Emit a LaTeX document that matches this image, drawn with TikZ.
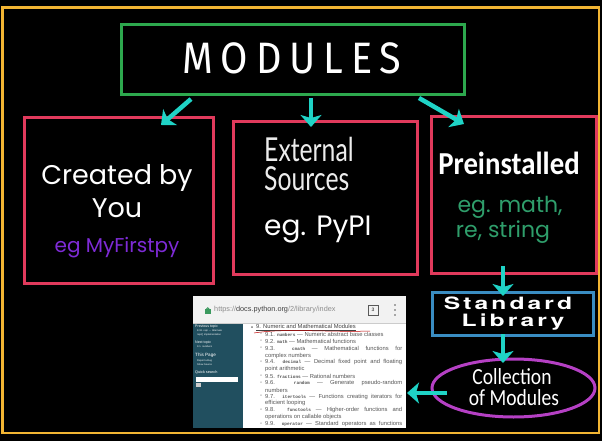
\documentclass[tikz,border=0pt]{standalone}
\usepackage{fontspec}
\usepackage{xcolor}
\usetikzlibrary{arrows.meta,calc,positioning,shapes.geometric}

\newfontfamily\modfont[LetterSpace=18,FakeStretch=0.9]{Fira Sans}
\newfontfamily\roundfont{Poppins}
\newfontfamily\tallfont[FakeStretch=0.75]{Lato}
\newfontfamily\preifont[FakeStretch=0.9]{Carlito}
\newfontfamily\widefont[LetterSpace=18,FakeStretch=1.45]{TeX Gyre Heros}
\newfontfamily\collfont[FakeStretch=0.85]{Carlito}
\newfontfamily\webfont{Liberation Sans}
\newfontfamily\webmono{Liberation Mono}

\definecolor{framey}{HTML}{F2B533}
\definecolor{boxgreen}{HTML}{2DA84E}
\definecolor{boxred}{HTML}{E03A5C}
\definecolor{arrowcyan}{HTML}{1FD3C6}
\definecolor{boxblue}{HTML}{3A8DC2}
\definecolor{ellmag}{HTML}{B540C4}
\definecolor{txtpurple}{HTML}{7E2BD6}
\definecolor{txtgreen}{HTML}{2F9E6B}
\definecolor{sidebar}{HTML}{214F5F}
\definecolor{webgray}{HTML}{555555}
\definecolor{lockgreen}{HTML}{3C9A5F}

\newcommand{\pycode}[1]{{\webmono\bfseries\fontsize{4.4}{5}\selectfont #1}}
\newcommand{\fsz}[1]{\fontsize{#1}{#1}\selectfont}

\begin{document}
\begin{tikzpicture}[x=1pt,y=-1pt,
    redbox/.style={draw=boxred, line width=3pt, inner sep=0pt},
    cyanarrow/.style={draw=arrowcyan, line width=4.5pt,
      -{Stealth[length=12pt,width=21pt,inset=3pt]}},
    bigtxt/.style={text=white, inner sep=0pt},
    webtxt/.style={text=webgray, inner sep=0pt, anchor=west,
      font=\webfont\fsz{5.8}},
    sidetxt/.style={text=white, inner sep=0pt, anchor=west}]
      % Background and frame
      \fill[black] (0,0) rectangle (602,441);
      \useasboundingbox (0,0) rectangle (602,441);
      \draw[framey, line width=2.5pt] (2.5,7.5) rectangle (599,433);
      % Top box
      \node[draw=boxgreen, line width=3pt, inner sep=0pt,
        minimum width=343pt, minimum height=70pt] (modules) at (293,59.5) {};
      \node[bigtxt, font=\modfont\fsz{44}] (modtxt) at (292,58) {MODULES};
      % Three kinds of modules
      \node[redbox, minimum width=189pt, minimum height=165pt] (created) at (118.5,200.5) {};
      \node[redbox, minimum width=184pt, minimum height=152pt] (external) at (325,198) {};
      \node[redbox, minimum width=165pt, minimum height=156pt] (preinst) at (513.5,195) {};
      % Texts of the boxes
      \node[bigtxt, font=\roundfont\fsz{27}] (c1) at (117,178) {Created by};
      \node[bigtxt, font=\roundfont\fsz{27}] (c2) at (117,208) {You};
      \node[bigtxt, text=txtpurple, font=\roundfont\fsz{20}] (c3) at (117,248) {eg MyFirstpy};
      \node[bigtxt, text=white!85!gray, anchor=west, font=\tallfont\fsz{33}] (e1) at (264,149) {External};
      \node[bigtxt, text=white!85!gray, anchor=west, font=\tallfont\fsz{33}] (e2) at (264,179) {Sources};
      \node[bigtxt, anchor=west, font=\roundfont\fsz{28}] (e3) at (264,230) {eg. PyPI};
      \node[bigtxt, font=\preifont\bfseries\fsz{32}] (p1) at (509,163) {Preinstalled};
      \node[bigtxt, text=txtgreen, font=\roundfont\fsz{22}] (p2) at (510,207) {eg. math,};
      \node[bigtxt, text=txtgreen, font=\roundfont\fsz{22}] (p3) at (503,232) {re, string};
      % Standard library and collection
      \node[draw=boxblue, line width=3pt, inner sep=0pt,
        minimum width=161pt, minimum height=43pt] (stdlib) at (512.5,313.5) {};
      \node[bigtxt, font=\widefont\bfseries\fsz{17}] (s1) at (508,303) {Standard};
      \node[bigtxt, font=\widefont\bfseries\fsz{17}] (s2) at (513,322) {Library};
      \node[draw=ellmag, line width=3pt, ellipse, inner sep=0pt,
        minimum width=163pt, minimum height=58pt] (coll) at (513.5,388) {};
      \node[bigtxt, font=\collfont\fsz{23}] (k1) at (512,377) {Collection};
      \node[bigtxt, font=\collfont\fsz{23}] (k2) at (514,398) {of Modules};
      % Screenshot of the docs page
      \node[fill=white, inner sep=0pt, minimum width=213pt, minimum height=132pt] (shot) at (299.5,362) {};
      \fill[black!5] (193,296) rectangle (406,323);
      \draw[black!20, line width=0.6pt] (193,323) -- (406,323);
      \fill[lockgreen] (205,309) rectangle (210.5,314);
      \draw[lockgreen, line width=0.9pt] (206,309.5) arc (180:360:1.75);
      \node[inner sep=0pt, anchor=west, text=black!75, font=\webfont\fsz{7.3}] (url) at (214,310)
        {\textcolor{black!45}{https://}docs.python.org\textcolor{black!45}{/2/library/index}};
      \draw[black!65, line width=0.7pt] (368,305) rectangle (378,315);
      \node[inner sep=0pt, text=black!65, font=\webfont\bfseries\fsz{5}] (tab) at (373,310) {3};
      \foreach \y in {305,310,315}
        \fill[black!65] (395,\y) circle (0.9);
      % Sidebar
      \fill[sidebar] (193,323.5) rectangle (243,428);
      \node[sidetxt, font=\webfont\fsz{3.6}] (sb1) at (195,327) {Previous topic};
      \node[sidetxt, font=\webfont\fsz{2.5}] (sb2) at (197,331.3) {8.18. repr --- Alternate};
      \node[sidetxt, font=\webfont\fsz{2.5}] (sb3) at (197,335) {repr() implementation};
      \node[sidetxt, font=\webfont\fsz{3.6}] (sb4) at (195,342.7) {Next topic};
      \node[sidetxt, font=\webfont\fsz{2.5}] (sb5) at (197,347) {9.1. numbers};
      \node[sidetxt, font=\webfont\fsz{4.6}] (sb6) at (195,355) {This Page};
      \node[sidetxt, font=\webfont\fsz{2.5}] (sb7) at (197,361) {Report a Bug};
      \node[sidetxt, font=\webfont\fsz{2.5}] (sb8) at (197,365) {Show Source};
      \node[sidetxt, font=\webfont\fsz{3.8}] (sb9) at (195,372) {Quick search};
      \fill[white] (196,377) rectangle (238,381.5);
      \fill[white!80!black] (196,382.5) rectangle (201,386.5);
      % Contents list
      \node[webtxt, text=black!75] (t0) at (251,327.7) {\textbullet};
      \node[webtxt, text=black!75] (t1) at (256,327.7) {\underbar{9. Numeric and Mathematical Modules}};
      \draw[red!75!black, line width=0.5pt] (254,333) .. controls (285,328) and (330,332.5) .. (370,331);
      \foreach \y in {334.3,341.7,348.7,362,376,383,396.7,410.3,424}
        \node[webtxt] at (260,\y) {◦};
      \node[webtxt] (t2) at (265,334.3) {9.1. \pycode{numbers} — Numeric abstract base classes};
      \node[webtxt] (t3) at (265,341.7) {9.2. \pycode{math} — Mathematical functions};
      \node[webtxt] (t4) at (265,348.7) {\makebox[137pt][s]{9.3. \pycode{cmath} — Mathematical functions for}};
      \node[webtxt] (t5) at (265,355.7) {complex numbers};
      \node[webtxt] (t6) at (265,362) {\makebox[137pt][s]{9.4. \pycode{decimal} — Decimal fixed point and floating}};
      \node[webtxt] (t7) at (265,369.3) {point arithmetic};
      \node[webtxt] (t8) at (265,376) {9.5. \pycode{fractions} — Rational numbers};
      \node[webtxt] (t9) at (265,383) {\makebox[137pt][s]{9.6. \pycode{random} — Generate pseudo-random}};
      \node[webtxt] (t10) at (265,390) {numbers};
      \node[webtxt] (t11) at (265,396.7) {\makebox[137pt][s]{9.7. \pycode{itertools} — Functions creating iterators for}};
      \node[webtxt] (t12) at (265,403.3) {efficient looping};
      \node[webtxt] (t13) at (265,410.3) {\makebox[137pt][s]{9.8. \pycode{functools} — Higher-order functions and}};
      \node[webtxt] (t14) at (265,417) {operations on callable objects};
      \node[webtxt] (t15) at (265,424) {\makebox[137pt][s]{9.9. \pycode{operator} — Standard operators as functions}};
      % Arrow ends
      \coordinate (a1s) at (191,99);
      \coordinate (a1e) at (161,125);
      \coordinate (a2s) at (311,98);
      \coordinate (a2e) at (311,127);
      \coordinate (a3s) at (419,98);
      \coordinate (a3e) at (464,124);
      \coordinate (a4s) at (503,266);
      \coordinate (a4e) at (503,296);
      \coordinate (a5s) at (503,334);
      \coordinate (a5e) at (503,363);
      \coordinate (a6s) at (447,393);
      \coordinate (a6e) at (407,393);
      % Arrows
      \draw[cyanarrow] (a1s) -- (a1e);
      \draw[cyanarrow] (a2s) -- (a2e);
      \draw[cyanarrow] (a3s) -- (a3e);
      \draw[cyanarrow] (a4s) -- (a4e);
      \draw[cyanarrow] (a5s) -- (a5e);
      \draw[cyanarrow] (a6s) -- (a6e);
    \end{tikzpicture}
\end{document}
